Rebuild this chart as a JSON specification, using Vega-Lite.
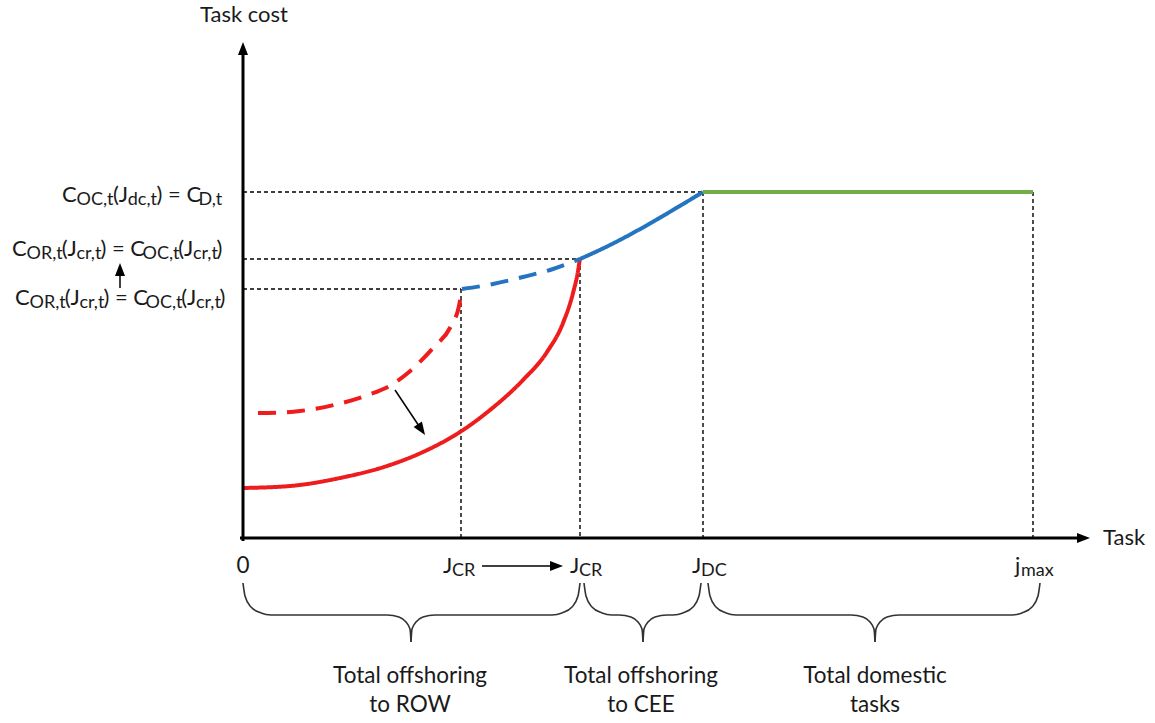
{
  "$schema": "https://vega.github.io/schema/vega-lite/v6.json",
  "width": 1155,
  "height": 723,
  "padding": 0,
  "autosize": {"type": "fit", "contains": "padding"},
  "background": "white",
  "config": {"view": {"stroke": null}},
  "datasets": {
    "curves": [
      {"s": "redSolid", "x": 0, "y": 50}, {"s": "redSolid", "x": 47, "y": 52}, {"s": "redSolid", "x": 97, "y": 60},
      {"s": "redSolid", "x": 147, "y": 73}, {"s": "redSolid", "x": 180, "y": 86}, {"s": "redSolid", "x": 217, "y": 106},
      {"s": "redSolid", "x": 247, "y": 128}, {"s": "redSolid", "x": 280, "y": 158}, {"s": "redSolid", "x": 304, "y": 186},
      {"s": "redSolid", "x": 320, "y": 215}, {"s": "redSolid", "x": 330, "y": 245}, {"s": "redSolid", "x": 335, "y": 267},
      {"s": "redSolid", "x": 337, "y": 280},
      {"s": "redDash", "x": 15, "y": 125}, {"s": "redDash", "x": 25, "y": 125}, {"s": "redDash", "x": 57, "y": 127},
      {"s": "redDash", "x": 91, "y": 133}, {"s": "redDash", "x": 125, "y": 143}, {"s": "redDash", "x": 150, "y": 154},
      {"s": "redDash", "x": 166, "y": 166}, {"s": "redDash", "x": 190, "y": 190}, {"s": "redDash", "x": 208, "y": 212},
      {"s": "redDash", "x": 216, "y": 232}, {"s": "redDash", "x": 219, "y": 249},
      {"s": "blueDash", "x": 219, "y": 249}, {"s": "blueDash", "x": 250, "y": 254}, {"s": "blueDash", "x": 280, "y": 261},
      {"s": "blueDash", "x": 310, "y": 269}, {"s": "blueDash", "x": 337, "y": 279},
      {"s": "blueSolid", "x": 337, "y": 279}, {"s": "blueSolid", "x": 368, "y": 293.5}, {"s": "blueSolid", "x": 399, "y": 310},
      {"s": "blueSolid", "x": 430, "y": 328}, {"s": "blueSolid", "x": 460, "y": 346},
      {"s": "green", "x": 460, "y": 346}, {"s": "green", "x": 790, "y": 346}
    ],
    "guides": [
      {"g": "h1", "x": 0, "y": 346}, {"g": "h1", "x": 460, "y": 346},
      {"g": "h2", "x": 0, "y": 279}, {"g": "h2", "x": 337, "y": 279},
      {"g": "h3", "x": 0, "y": 249}, {"g": "h3", "x": 218, "y": 249},
      {"g": "v1", "x": 218, "y": 249}, {"g": "v1", "x": 218, "y": 0},
      {"g": "v2", "x": 337, "y": 279}, {"g": "v2", "x": 337, "y": 0},
      {"g": "v3", "x": 460, "y": 346}, {"g": "v3", "x": 460, "y": 0},
      {"g": "v4", "x": 790, "y": 346}, {"g": "v4", "x": 790, "y": 0}
    ],
    "braces": [
      {"b": "1L", "x": 0, "y": -45}, {"b": "1L", "x": 2, "y": -58}, {"b": "1L", "x": 8, "y": -69}, {"b": "1L", "x": 18, "y": -75}, {"b": "1L", "x": 28, "y": -77},
      {"b": "1L", "x": 144, "y": -77}, {"b": "1L", "x": 156, "y": -79}, {"b": "1L", "x": 163, "y": -84}, {"b": "1L", "x": 167, "y": -91}, {"b": "1L", "x": 168, "y": -104},
      {"b": "1R", "x": 168, "y": -104}, {"b": "1R", "x": 169, "y": -91}, {"b": "1R", "x": 173, "y": -84}, {"b": "1R", "x": 180, "y": -79}, {"b": "1R", "x": 192, "y": -77},
      {"b": "1R", "x": 309, "y": -77}, {"b": "1R", "x": 319, "y": -75}, {"b": "1R", "x": 329, "y": -69}, {"b": "1R", "x": 335, "y": -58}, {"b": "1R", "x": 337, "y": -45},
      {"b": "2L", "x": 341, "y": -45}, {"b": "2L", "x": 343, "y": -58}, {"b": "2L", "x": 349, "y": -69}, {"b": "2L", "x": 359, "y": -75}, {"b": "2L", "x": 369, "y": -77},
      {"b": "2L", "x": 376, "y": -77}, {"b": "2L", "x": 388, "y": -79}, {"b": "2L", "x": 395, "y": -84}, {"b": "2L", "x": 399, "y": -91}, {"b": "2L", "x": 400, "y": -104},
      {"b": "2R", "x": 400, "y": -104}, {"b": "2R", "x": 401, "y": -91}, {"b": "2R", "x": 405, "y": -84}, {"b": "2R", "x": 412, "y": -79}, {"b": "2R", "x": 424, "y": -77},
      {"b": "2R", "x": 430, "y": -77}, {"b": "2R", "x": 440, "y": -75}, {"b": "2R", "x": 450, "y": -69}, {"b": "2R", "x": 456, "y": -58}, {"b": "2R", "x": 458, "y": -45},
      {"b": "3L", "x": 465, "y": -45}, {"b": "3L", "x": 467, "y": -58}, {"b": "3L", "x": 473, "y": -69}, {"b": "3L", "x": 483, "y": -75}, {"b": "3L", "x": 493, "y": -77},
      {"b": "3L", "x": 608, "y": -77}, {"b": "3L", "x": 620, "y": -79}, {"b": "3L", "x": 627, "y": -84}, {"b": "3L", "x": 631, "y": -91}, {"b": "3L", "x": 632, "y": -104},
      {"b": "3R", "x": 632, "y": -104}, {"b": "3R", "x": 633, "y": -91}, {"b": "3R", "x": 637, "y": -84}, {"b": "3R", "x": 644, "y": -79}, {"b": "3R", "x": 656, "y": -77},
      {"b": "3R", "x": 769, "y": -77}, {"b": "3R", "x": 779, "y": -75}, {"b": "3R", "x": 789, "y": -69}, {"b": "3R", "x": 795, "y": -58}, {"b": "3R", "x": 797, "y": -45}
    ],
    "axes": [
      {"a": "y", "x": 0, "y": -1.5}, {"a": "y", "x": 0, "y": 484},
      {"a": "x", "x": -1.5, "y": 0}, {"a": "x", "x": 835, "y": 0}
    ],
    "shafts": [
      {"a": "up", "x": -123, "y": 250}, {"a": "up", "x": -123, "y": 263},
      {"a": "jcr", "x": 239, "y": -28}, {"a": "jcr", "x": 308, "y": -28},
      {"a": "diag", "x": 152, "y": 148}, {"a": "diag", "x": 178, "y": 109}
    ],
    "heads": [
      {"x": 0, "y": 489.5, "angle": 0},
      {"x": 840.5, "y": 0, "angle": 90},
      {"x": -123, "y": 268.5, "angle": 0},
      {"x": 313.5, "y": -28, "angle": 90},
      {"x": 178.4, "y": 108.4, "angle": 146}
    ],
    "mainLeft": [
      {"x": -43, "y": 516, "t": "Task cost"},
      {"x": 860, "y": -7, "t": "Task"},
      {"x": -181, "y": 336, "t": "C"}, {"x": -130, "y": 336, "t": "(J"}, {"x": -86.5, "y": 336, "t": ") = C"},
      {"x": -231, "y": 282, "t": "C"}, {"x": -181.3, "y": 282, "t": "(J"}, {"x": -142.6, "y": 282, "t": ") = C"}, {"x": -64.8, "y": 282, "t": "(J"}, {"x": -26.6, "y": 282, "t": ")"},
      {"x": -228, "y": 233, "t": "C"}, {"x": -178.3, "y": 233, "t": "(J"}, {"x": -139.6, "y": 233, "t": ") = C"}, {"x": -61.8, "y": 233, "t": "(J"}, {"x": -23.6, "y": 233, "t": ")"},
      {"x": 200, "y": -35, "t": "J"}, {"x": 327, "y": -35, "t": "J"}, {"x": 449, "y": -35, "t": "J"}, {"x": 772, "y": -35, "t": "j"}
    ],
    "subLeft": [
      {"x": -166.5, "y": 336, "t": "OC,t"}, {"x": -115.3, "y": 336, "t": "dc,t"}, {"x": -44.5, "y": 336, "t": "D,t"},
      {"x": -216.5, "y": 282, "t": "OR,t"}, {"x": -166.6, "y": 282, "t": "cr,t"}, {"x": -100.4, "y": 282, "t": "OC,t"}, {"x": -50.1, "y": 282, "t": "cr,t"},
      {"x": -213.5, "y": 233, "t": "OR,t"}, {"x": -163.6, "y": 233, "t": "cr,t"}, {"x": -97.4, "y": 233, "t": "OC,t"}, {"x": -47.1, "y": 233, "t": "cr,t"},
      {"x": 209, "y": -35, "t": "CR"}, {"x": 336, "y": -35, "t": "CR"}, {"x": 458, "y": -35, "t": "DC"}, {"x": 778, "y": -35, "t": "max"}
    ],
    "captions": [
      {"x": 0, "y": -35, "t": "0"},
      {"x": 167, "y": -145, "t": "Total offshoring"}, {"x": 167, "y": -174, "t": "to ROW"},
      {"x": 398, "y": -145, "t": "Total offshoring"}, {"x": 398, "y": -174, "t": "to CEE"},
      {"x": 632, "y": -145, "t": "Total domestic"}, {"x": 632, "y": -174, "t": "tasks"}
    ]
  },
  "encoding": {
    "x": {"field": "x", "type": "quantitative", "scale": {"domain": [-243, 912], "nice": false, "zero": false}, "axis": null},
    "y": {"field": "y", "type": "quantitative", "scale": {"domain": [-185, 538], "nice": false, "zero": false}, "axis": null}
  },
  "layer": [
    {
      "data": {"name": "guides"},
      "mark": {"type": "line", "color": "black", "strokeWidth": 1.4, "strokeDash": [4, 3]},
      "encoding": {"detail": {"field": "g"}}
    },
    {
      "data": {"name": "braces"},
      "mark": {"type": "line", "color": "#333333", "strokeWidth": 1.6, "interpolate": "monotone"},
      "encoding": {"detail": {"field": "b"}}
    },
    {
      "data": {"name": "curves"},
      "mark": {"type": "line", "strokeWidth": 4, "interpolate": "monotone", "strokeCap": "butt"},
      "encoding": {
        "detail": {"field": "s"},
        "color": {"field": "s", "type": "nominal", "legend": null,
          "scale": {"domain": ["redSolid", "redDash", "blueDash", "blueSolid", "green"],
                    "range": ["#EE1C1C", "#EE1C1C", "#2474C0", "#2474C0", "#70AD47"]}},
        "strokeDash": {"field": "s", "type": "nominal", "legend": null,
          "scale": {"domain": ["redSolid", "redDash", "blueDash", "blueSolid", "green"],
                    "range": [[1, 0], [18, 11], [18, 11], [1, 0], [1, 0]]}}
      }
    },
    {
      "data": {"name": "axes"},
      "mark": {"type": "line", "color": "black", "strokeWidth": 3, "strokeCap": "square"},
      "encoding": {"detail": {"field": "a"}}
    },
    {
      "data": {"name": "shafts"},
      "mark": {"type": "line", "color": "black", "strokeWidth": 1.5},
      "encoding": {"detail": {"field": "a"}}
    },
    {
      "data": {"name": "heads"},
      "mark": {"type": "point", "shape": "M0,-1L0.77,1L-0.77,1Z", "size": 169, "filled": true, "color": "black", "opacity": 1, "strokeWidth": 0},
      "encoding": {"angle": {"field": "angle", "type": "quantitative", "scale": null}}
    },
    {
      "data": {"name": "mainLeft"},
      "mark": {"type": "text", "align": "left", "baseline": "alphabetic", "font": "Lato", "fontSize": 22, "color": "#1a1a1a"},
      "encoding": {"text": {"field": "t"}}
    },
    {
      "data": {"name": "subLeft"},
      "mark": {"type": "text", "align": "left", "baseline": "alphabetic", "font": "Lato", "fontSize": 18, "dy": 3, "color": "#1a1a1a"},
      "encoding": {"text": {"field": "t"}}
    },
    {
      "data": {"name": "captions"},
      "mark": {"type": "text", "align": "center", "baseline": "alphabetic", "font": "Lato", "fontSize": 22.5, "color": "#1a1a1a"},
      "encoding": {"text": {"field": "t"}}
    }
  ]
}
